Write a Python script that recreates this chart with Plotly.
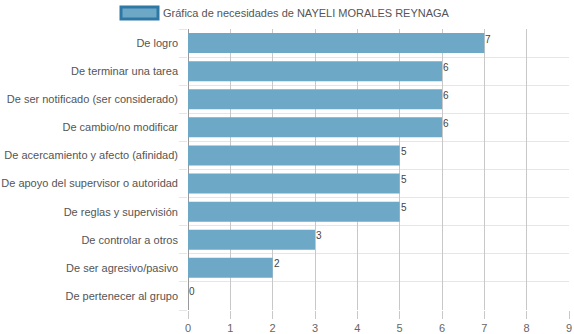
import plotly.graph_objects as go

categories = [
    "De logro",
    "De terminar una tarea",
    "De ser notificado (ser considerado)",
    "De cambio/no modificar",
    "De acercamiento y afecto (afinidad)",
    "De apoyo del supervisor o autoridad",
    "De reglas y supervisión",
    "De controlar a otros",
    "De ser agresivo/pasivo",
    "De pertenecer al grupo",
]
values = [7, 6, 6, 6, 5, 5, 5, 3, 2, 0]
series_name = "Gráfica de necesidades de NAYELI MORALES REYNAGA"
x_ticks = list(range(0, 10))

FONT = "Arial, Liberation Sans, Helvetica, sans-serif"
pos = list(range(len(categories)))

fig = go.Figure()
fig.add_trace(go.Bar(
    x=values, y=pos, orientation="h",
    marker=dict(color="#6ea8c7", line=dict(color="#6ea8c7", width=0)),
    width=0.71, showlegend=False, hoverinfo="skip",
))

for v, p in zip(values, pos):
    fig.add_annotation(x=v, y=p, text=str(v), showarrow=False,
                       xanchor="left", yanchor="middle", xshift=-1, yshift=4,
                       font=dict(family=FONT, size=10, color="#444"))

# legend drawn manually
fig.add_shape(type="rect", xref="paper", yref="paper",
              x0=(121 - 188) / 381, x1=(158 - 188) / 381,
              y0=(310 - 19) / 281, y1=(310 - 7) / 281,
              fillcolor="#6ea8c7", line=dict(color="#2e78a6", width=3))
fig.add_annotation(xref="paper", yref="paper", x=(161 - 188) / 381, y=(310 - 13) / 281,
                   text=series_name, showarrow=False, xanchor="left", yanchor="middle",
                   font=dict(family=FONT, size=11, color="#555"))

fig.update_layout(
    width=574, height=334,
    margin=dict(l=188, r=5, t=29, b=24),
    paper_bgcolor="white", plot_bgcolor="white",
    font=dict(family=FONT, size=11, color="#666"),
    bargap=0.29,
    xaxis=dict(range=[0, 9], tickvals=x_ticks, showgrid=True, gridcolor="#c8c8c8",
               gridwidth=1, zeroline=True, zerolinecolor="#999", zerolinewidth=1,
               ticks="outside", ticklen=8, tickcolor="#c8c8c8", automargin=False,
               tickfont=dict(size=11, color="#666"), showline=False, fixedrange=True),
    yaxis=dict(range=[len(categories) - 0.5, -0.5], tickvals=pos, ticktext=categories,
               showgrid=False, ticks="", ticklabelstandoff=9, automargin=False,
               tickfont=dict(size=11, color="#555"),
               minor=dict(tickvals=[p + 0.5 for p in pos] + [-0.5], showgrid=True,
                          gridcolor="#e6e6e6", gridwidth=1, ticks="outside", ticklen=8,
                          tickcolor="#e6e6e6"),
               showline=False, zeroline=False, fixedrange=True),
)

fig.write_html("out.html")
